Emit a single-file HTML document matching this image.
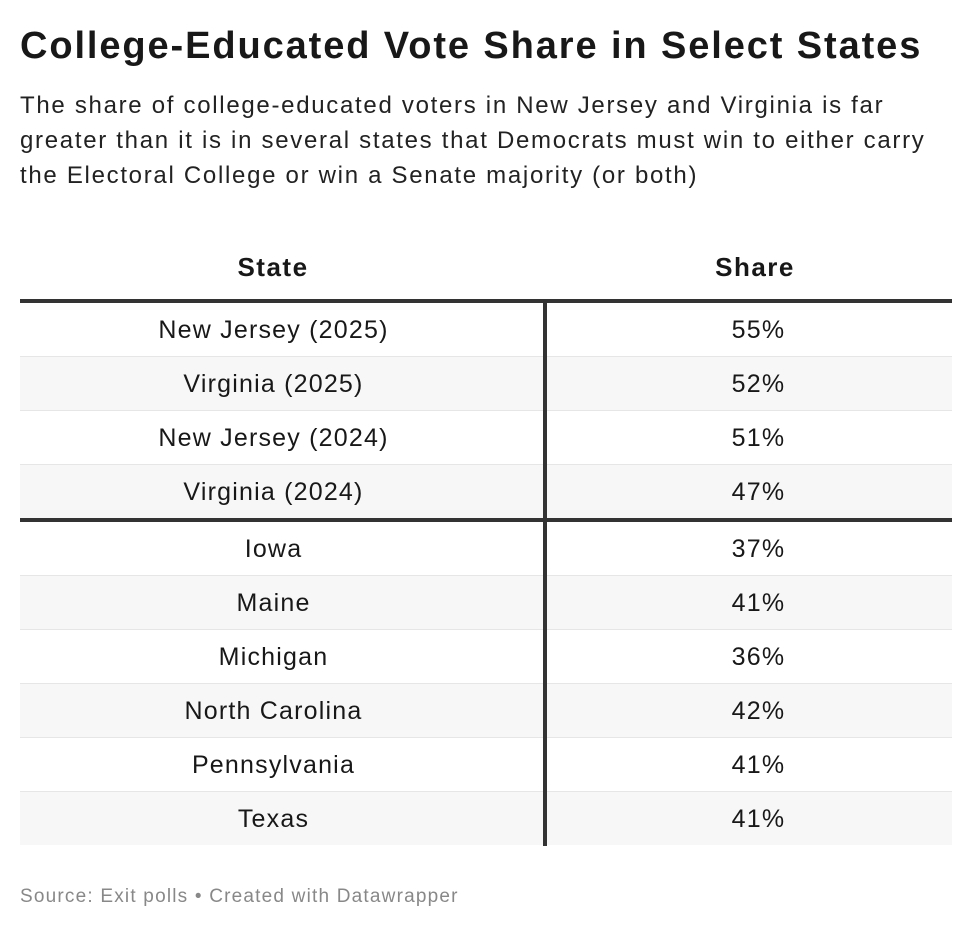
<!DOCTYPE html>
<html><head><meta charset="utf-8"><style>
body{margin:0;background:#fff;width:972px;height:932px;position:relative;font-family:"Liberation Sans",sans-serif;color:#181818;overflow:hidden}
.abs{position:absolute}
h1{position:absolute;left:20px;top:20px;margin:0;font-size:38px;font-weight:bold;letter-spacing:1.9px;line-height:52px;white-space:nowrap}
.sub{left:20px;top:88px;width:945px;font-size:24px;letter-spacing:1.7px;line-height:35px;color:#222;white-space:nowrap}
.hd{top:252px;font-size:26px;font-weight:bold;width:300px;text-align:center;letter-spacing:1.5px}
.cell{font-size:25px;text-align:center;line-height:54px;letter-spacing:1.2px}
.src{left:20px;top:886px;font-size:19px;letter-spacing:1.2px;color:#888}
</style></head><body>
<h1>College-Educated Vote Share in Select States</h1>
<div class="abs sub">The share of college-educated voters in New Jersey and Virginia is far<br>greater than it is in several states that Democrats must win to either carry<br>the Electoral College or win a Senate majority (or both)</div>
<div class="abs hd" style="left:123px">State</div>
<div class="abs hd" style="left:605px">Share</div>
<div id="tbl"></div>
<div class="abs src">Source: Exit polls • Created with Datawrapper</div>
<script>
const states=["New Jersey (2025)","Virginia (2025)","New Jersey (2024)","Virginia (2024)","Iowa","Maine","Michigan","North Carolina","Pennsylvania","Texas"];
const shares=[55,52,51,47,37,41,36,42,41,41];
const groupBreak=4;
const tbl=document.getElementById('tbl');
function add(css,name,text,cls){const d=document.createElement('div');d.className='abs '+(cls||'');d.style.cssText=css;if(text!==undefined)d.textContent=text;


tbl.appendChild(d);return d;}
add('left:20px;top:299px;width:932px;height:4px;background:#333','top-rule');
let y=303;
states.forEach((s,i)=>{
  if(i===groupBreak){add('left:20px;top:'+(y-1)+'px;width:932px;height:4px;background:#333','group-divider');y+=3;}
  const alt=(i<groupBreak?i:i-groupBreak)%2===1;
  add('left:20px;top:'+y+'px;width:932px;height:53px;background:'+(alt?'#f7f7f7':'#fff'),'row-bg');
  if(i!==states.length-1&&i!==groupBreak-1)add('left:20px;top:'+(y+53)+'px;width:932px;height:2px;background:#e6e6e6','row-rule');
  add('left:20px;top:'+y+'px;width:507px;height:54px','state-cell',s,'cell');
  add('left:565px;top:'+y+'px;width:387px;height:54px','share-cell',shares[i]+'%','cell');
  y+=54;
});
add('left:543px;top:303px;width:4px;height:'+(y-303)+'px;background:#333','column-divider');
</script>
</body></html>
